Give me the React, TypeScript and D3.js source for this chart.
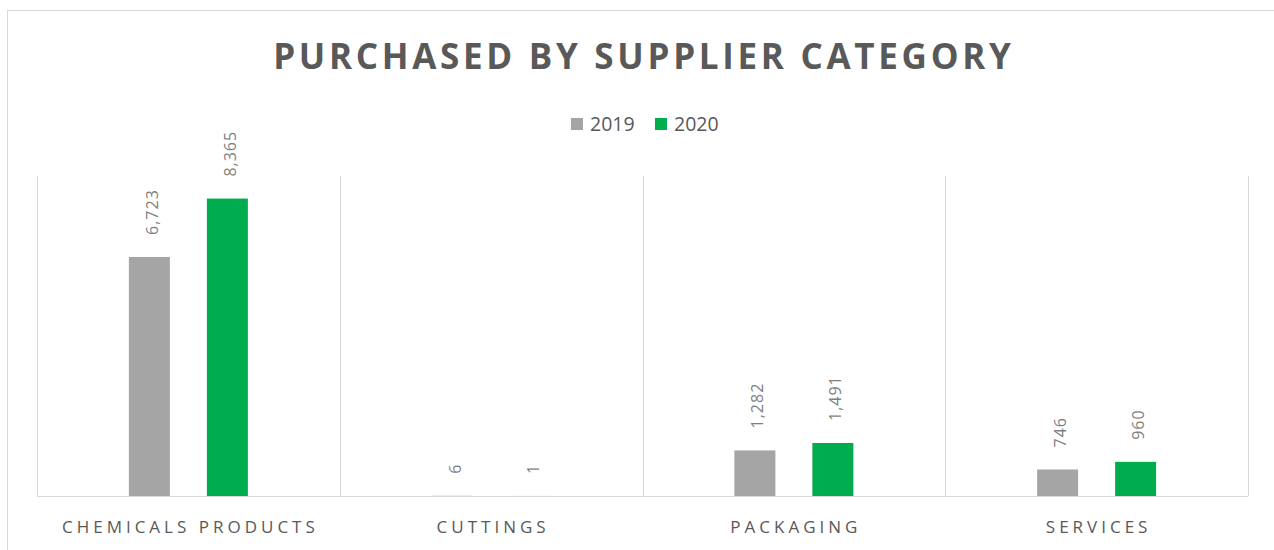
import React from 'react';
import * as d3 from 'd3';

const categories = ['CHEMICALS PRODUCTS', 'CUTTINGS', 'PACKAGING', 'SERVICES'];
const series = ['2019', '2020'];
const values2019 = [6723, 6, 1282, 746];
const values2020 = [8365, 1, 1491, 960];
const colors = ['#a5a5a5', '#00ad4e'];

const W = 1274;
const H = 550;
const plot = { left: 37, right: 1248, top: 176, bottom: 496 };

export default function App() {
  const x = d3.scaleBand<string>().domain(categories).range([plot.left, plot.right]);
  const y = d3.scaleLinear().domain([0, 9000]).range([plot.bottom, plot.top]);
  const barW = 41;
  const gap = 37;
  const fmt = d3.format(',');
  const allValues = [values2019, values2020];
  const titleSpacing = 3.7;
  const catSpacing = 4;

  return (
    <svg width={W} height={H} style={{ position: 'absolute', left: 0, top: 0, background: '#fff' }}
      fontFamily="'Open Sans', sans-serif">
      <rect x={7.5} y={10.5} width={1300} height={600} fill="#fff" stroke="#d9d9d9" />
      <text x={642 + titleSpacing / 2} y={69} textAnchor="middle" fontSize={35} fontWeight={700}
        fill="#595959" letterSpacing={titleSpacing}>PURCHASED BY SUPPLIER CATEGORY</text>

      {/* legend */}
      <g fontSize={19.5} fill="#595959">
        <rect x={571} y={118} width={12} height={12} fill={colors[0]} />
        <text x={590} y={131}>{series[0]}</text>
        <rect x={655} y={118} width={12} height={12} fill={colors[1]} />
        <text x={674} y={131}>{series[1]}</text>
      </g>

      {/* vertical category separators */}
      {d3.range(categories.length + 1).map(i => {
        const xx = Math.round(plot.left + i * x.step()) + 0.5;
        return <line key={i} x1={xx} x2={xx} y1={plot.top} y2={plot.bottom} stroke="#d9d9d9" />;
      })}
      <line x1={plot.left} x2={plot.right} y1={plot.bottom + 0.5} y2={plot.bottom + 0.5} stroke="#d9d9d9" />

      {categories.map((c, ci) => {
        const center = x(c)! + x.bandwidth() / 2;
        return (
          <g key={c}>
            {allValues.map((vals, si) => {
              const bx = center - gap / 2 - barW + si * (barW + gap);
              const v = vals[ci];
              const top = y(v);
              const cx = bx + barW / 2;
              const ly = top - 22;
              return (
                <g key={si}>
                  <rect x={bx} y={top} width={barW} height={plot.bottom - top} fill={colors[si]} />
                  <text transform={`translate(${cx + 8.5},${ly}) rotate(-90)`} fontSize={16}
                    fill="#7f7f7f" letterSpacing={1}>{fmt(v)}</text>
                </g>
              );
            })}
            <text x={center + catSpacing / 2} y={533} textAnchor="middle" fontSize={17} fill="#595959"
              letterSpacing={catSpacing}>{c}</text>
          </g>
        );
      })}
    </svg>
  );
}
